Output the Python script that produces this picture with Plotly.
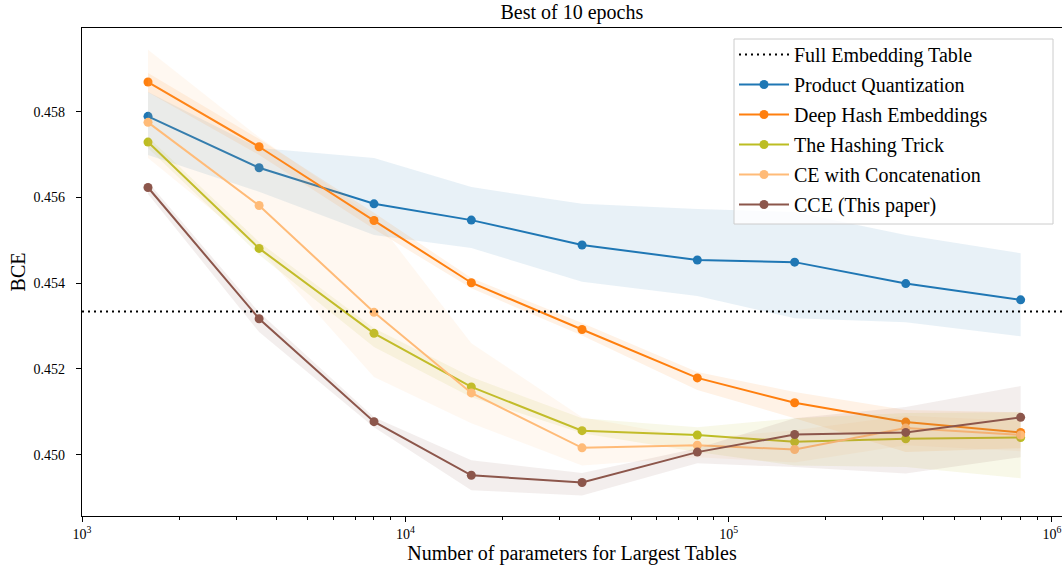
import plotly.graph_objects as go

# ---------------- data ----------------
params = [1600, 3530, 8000, 16000, 35200, 80000, 160000, 353000, 800000]
full_embedding = 0.45334

pq_mean  = [0.45789, 0.45669, 0.45585, 0.45547, 0.45489, 0.45454, 0.45449, 0.45399, 0.45361]
pq_up    = [0.45846, 0.45715, 0.45692, 0.45624, 0.45585, 0.45573, 0.45566, 0.45512, 0.45470]
pq_lo    = [0.45699, 0.45613, 0.45512, 0.45482, 0.45403, 0.45370, 0.45318, 0.45309, 0.45276]

dhe_mean = [0.45869, 0.45718, 0.45546, 0.45401, 0.45292, 0.45179, 0.45121, 0.45076, 0.45052]
dhe_up   = [0.45890, 0.45736, 0.45564, 0.45412, 0.45307, 0.45193, 0.45146, 0.45104, 0.45099]
dhe_lo   = [0.45845, 0.45699, 0.45526, 0.45388, 0.45278, 0.45151, 0.45085, 0.45006, 0.45015]

ht_mean  = [0.45729, 0.45481, 0.45283, 0.45158, 0.45056, 0.45046, 0.45030, 0.45037, 0.45040]
ht_up    = [0.45741, 0.45496, 0.45295, 0.45181, 0.45085, 0.45064, 0.45085, 0.45097, 0.45099]
ht_lo    = [0.45715, 0.45466, 0.45251, 0.45134, 0.45050, 0.45006, 0.44975, 0.44971, 0.44945]

cec_mean = [0.45775, 0.45581, 0.45332, 0.45144, 0.45016, 0.45022, 0.45012, 0.45062, 0.45046]
cec_up   = [0.45944, 0.45740, 0.45554, 0.45260, 0.45087, 0.45038, 0.45057, 0.45091, 0.45079]
cec_lo   = [0.45692, 0.45481, 0.45181, 0.45073, 0.44975, 0.44994, 0.44982, 0.45022, 0.45008]

cce_mean = [0.45623, 0.45317, 0.45077, 0.44952, 0.44935, 0.45006, 0.45047, 0.45052, 0.45087]
cce_up   = [0.45636, 0.45332, 0.45087, 0.44987, 0.44957, 0.45015, 0.45085, 0.45111, 0.45160]
cce_lo   = [0.45608, 0.45286, 0.45064, 0.44917, 0.44905, 0.44980, 0.44971, 0.44956, 0.44994]

series = [
    ("Product Quantization", "#1f77b4", "rgba(31,119,180,0.1)", pq_mean, pq_up, pq_lo),
    ("Deep Hash Embeddings", "#ff7f0e", "rgba(255,127,14,0.1)", dhe_mean, dhe_up, dhe_lo),
    ("The Hashing Trick", "#bcbd22", "rgba(188,189,34,0.1)", ht_mean, ht_up, ht_lo),
    ("CE with Concatenation", "#ffbb78", "rgba(255,187,120,0.1)", cec_mean, cec_up, cec_lo),
    ("CCE (This paper)", "#8c564b", "rgba(140,86,75,0.1)", cce_mean, cce_up, cce_lo),
]

x_major = [1e3, 1e4, 1e5, 1e6]
x_major_text = ["10<sup>3</sup>", "10<sup>4</sup>", "10<sup>5</sup>", "10<sup>6</sup>"]
x_minor = [m * 10 ** e for e in range(3, 6) for m in range(2, 10)]
y_ticks = [0.450, 0.452, 0.454, 0.456, 0.458]

FONT = "Liberation Serif, Times New Roman, serif"

fig = go.Figure()

# Full embedding (horizontal dotted line + legend entry)
fig.add_shape(type="line", xref="paper", x0=0, x1=1, yref="y", y0=full_embedding, y1=full_embedding,
              line=dict(color="black", width=2, dash="2px,4px"), layer="above")
fig.add_trace(go.Scatter(x=[None], y=[None], mode="lines", name="Full Embedding Table",
                         line=dict(color="black", width=2, dash="2px,4px"), legendgroup="g0"))

for i, (name, col, fcol, m, up, lo) in enumerate(series):
    fig.add_trace(go.Scatter(x=params, y=lo, mode="lines", line=dict(width=0, color=fcol),
                             showlegend=False, hoverinfo="skip"))
    fig.add_trace(go.Scatter(x=params, y=up, mode="lines", line=dict(width=0, color=fcol),
                             fill="tonexty", fillcolor=fcol, showlegend=False, hoverinfo="skip"))
    fig.add_trace(go.Scatter(x=params, y=m, mode="lines+markers", name=name,
                             line=dict(color=col, width=2), marker=dict(color=col, size=9),
                             legendgroup="g%d" % (i + 1)))

# legend frame (drawn as a shape so its size matches the reference)
fig.add_shape(type="rect", xref="paper", yref="paper",
              x0=(734 - 82) / 980, x1=(1053 - 82) / 980,
              y0=(516 - 224) / 488, y1=(516 - 39) / 488,
              fillcolor="rgba(255,255,255,0.8)", line=dict(color="#cccccc", width=1), layer="above")

fig.update_layout(
    width=1063, height=567,
    margin=dict(l=82, r=1, t=28, b=51, autoexpand=False),
    paper_bgcolor="white", plot_bgcolor="white",
    font=dict(family=FONT, size=14, color="black"),
    title=dict(text="Best of 10 epochs", x=0.538, xanchor="center", xref="container",
               y=0.979, yanchor="middle", yref="container", font=dict(size=20, family=FONT)),
    showlegend=True,
    legend=dict(x=(734 - 82) / 980, y=(516 - 35) / 488, xanchor="left", yanchor="top",
                bgcolor="rgba(0,0,0,0)", borderwidth=0,
                font=dict(size=20, family=FONT), tracegroupgap=1, itemwidth=50),
)

fig.update_xaxes(
    type="log", range=[3, 6.031], automargin=False,
    tickmode="array", tickvals=x_major, ticktext=x_major_text,
    ticks="outside", ticklen=5, tickwidth=1, tickcolor="black",
    minor=dict(tickmode="array", tickvals=x_minor, ticks="outside", ticklen=3, tickwidth=1, tickcolor="black"),
    showline=True, linecolor="black", linewidth=1.2, mirror=True,
    showgrid=False, zeroline=False,
    tickfont=dict(size=14, family=FONT),
    title=dict(text="Number of parameters for Largest Tables", font=dict(size=20, family=FONT), standoff=0),
)
fig.update_yaxes(
    range=[0.44857, 0.45995], automargin=False,
    tickmode="array", tickvals=y_ticks, tickformat=".3f",
    ticks="outside", ticklen=5, tickwidth=1, tickcolor="black", ticklabelstandoff=8,
    showline=True, linecolor="black", linewidth=1.2, mirror=False,
    showgrid=False, zeroline=False,
    tickfont=dict(size=14, family=FONT),
    title=dict(text="BCE", font=dict(size=20, family=FONT), standoff=2),
)

fig.write_html("out.html", config={"displayModeBar": False},
               post_script="document.body.style.margin='0';document.body.style.overflow='hidden';")
